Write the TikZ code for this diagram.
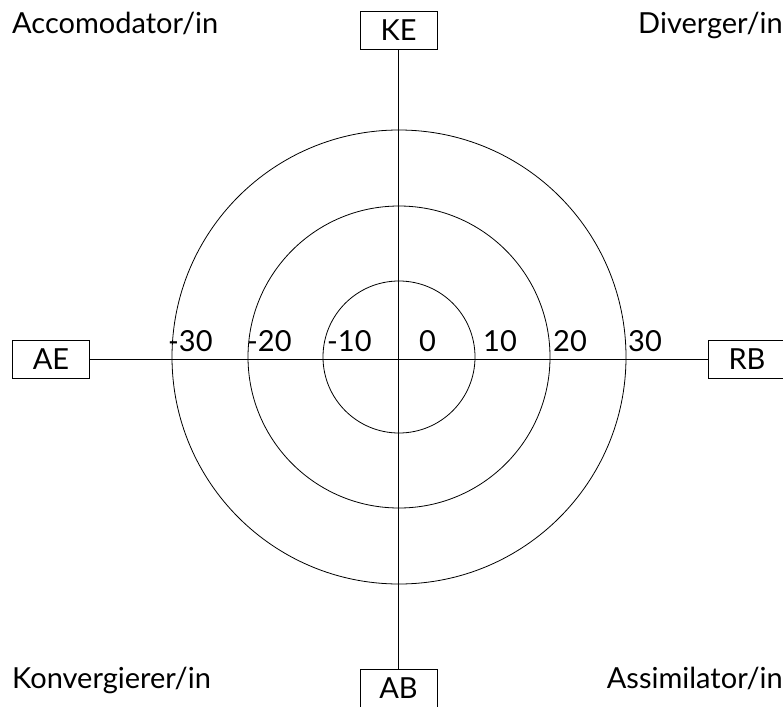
\documentclass[tikz,border=0pt]{standalone}
\usepackage{fontspec}
\setmainfont{Lato}
\begin{document}
\begin{tikzpicture}[x=1pt,y=-1pt,
  axisbox/.style={draw,line width=0.8pt,minimum width=77pt,minimum height=38pt,inner sep=0pt,font=\fontsize{29}{34}\selectfont},
  corner/.style={inner sep=0pt,font=\fontsize{29}{34}\selectfont},
  tick/.style={inner sep=0pt,anchor=base west,font=\fontsize{29}{34}\selectfont},
  ring/.style={line width=0.8pt}]
\useasboundingbox (0,0) rectangle (783,706);
\coordinate (c) at (399,357);
% axis boxes
\node[axisbox] (ke) at (398.5,30.5) {KE};
\node[axisbox] (ab) at (398.5,688) {AB};
\node[axisbox] (ae) at (51,359.5) {AE};
\node[axisbox] (rb) at (747,359.5) {RB};
% axes
\draw[ring] (ke.south) -- (ab.north);
\draw[ring] (ae.east) -- (rb.west);
% rings
\draw[ring] (c) circle (76);
\draw[ring] (c) circle (151);
\draw[ring] (c) circle (227);
% scale labels
\node[tick] (m30) at (168,351) {-30};
\node[tick] (m20) at (247,351) {-20};
\node[tick] (m10) at (327,351) {-10};
\node[tick] (z0) at (419,351) {0};
\node[tick] (p10) at (483,351) {10};
\node[tick] (p20) at (553,351) {20};
\node[tick] (p30) at (628,351) {30};
% quadrant names
\node[corner,anchor=base west] (acc) at (12,34) {Accomodator/in};
\node[corner,anchor=base east] (div) at (783,34) {Diverger/in};
\node[corner,anchor=base west] (kon) at (12,688) {Konvergierer/in};
\node[corner,anchor=base east] (ass) at (783,688) {Assimilator/in};
\end{tikzpicture}
\end{document}
